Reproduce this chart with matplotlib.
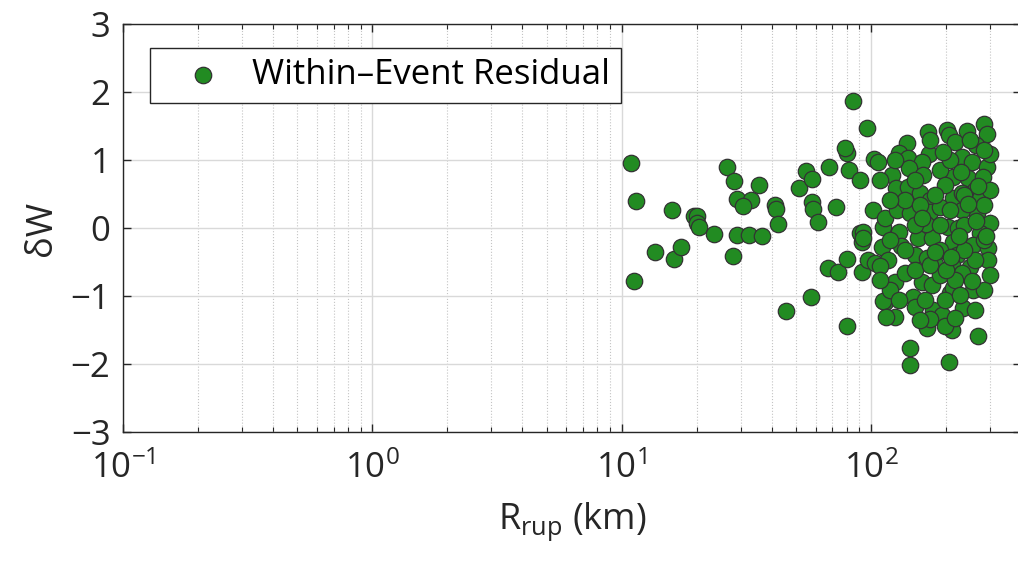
import numpy as np
import matplotlib
matplotlib.use("Agg")
import matplotlib.pyplot as plt
from matplotlib.ticker import LogLocator, FixedLocator, NullFormatter

# rupture distance (km) and within-event residual
r_rup = [
    10.9, 11.4, 11.2, 13.6, 16.2, 17.3, 15.9, 19.5, 20.0, 20.0, 20.4, 23.4,
    26.4, 28.2, 35.5, 29.0, 33.0, 30.6, 27.9, 29.0, 32.4, 36.5, 41.2, 41.6,
    42.3, 45.6, 51.4, 54.9, 58.0, 67.9, 58.0, 58.6, 61.3, 72.6, 57.5, 67.2,
    73.8, 80.0, 80.0, 78.6, 80.0, 84.4, 96.4, 81.5, 90.5, 103, 107, 102,
    90.5, 92.2, 92.2, 97, 112, 104,
    169, 140, 130, 141, 171, 160, 142, 162, 121, 126, 141, 157, 173, 114,
    127, 143, 162, 173, 130, 154, 176, 93, 93, 111, 117, 150, 168, 125,
    137, 160, 176, 114, 147, 150, 125, 177, 168, 143, 143,
    284, 243, 202, 206, 292, 264, 217, 232, 255, 292, 213, 245, 282, 261,
    213, 274, 232, 189, 266, 300, 232, 204, 224, 274, 213, 257, 295, 221,
    295, 250, 300, 211, 232, 207, 257, 234, 193, 211, 269, 206,
    300, 166, 132, 181, 109, 213, 173, 198, 112, 115,
    189, 198, 181, 207, 300, 285, 237, 189, 150, 119, 137, 189, 261, 189,
    218, 150, 119, 165, 198, 228, 285, 261, 218, 157, 130, 137, 119, 109,
    125, 150, 173, 250, 285, 237, 207, 157, 285, 237, 173, 109,
    270, 245, 225, 200, 180, 160, 255, 230, 210, 195, 290, 265,
]
resid = [
    0.96, 0.39, -0.78, -0.35, -0.46, -0.28, 0.26, 0.18, 0.17, 0.07, 0.01, -0.09,
    0.90, 0.69, 0.63, 0.43, 0.41, 0.32, -0.41, -0.10, -0.10, -0.12, 0.34, 0.28,
    0.06, -1.22, 0.59, 0.84, 0.72, 0.90, 0.38, 0.28, 0.09, 0.31, -1.01, -0.59,
    -0.65, -0.46, 1.10, 1.18, -1.44, 1.87, 1.47, 0.85, 0.71, 1.01, 0.97, 0.26,
    -0.07, -0.21, -0.65, -0.47, 0.01, -0.51,
    1.41, 1.25, 1.10, 1.03, 1.09, 0.97, 0.88, 0.78, 0.78, 0.59, 0.60, 0.51,
    0.41, 0.15, 0.26, 0.22, 0.12, 0.24, -0.06, -0.15, -0.15, -0.06, -0.15,
    -0.28, -0.47, -0.40, -0.44, -0.79, -0.66, -0.79, -0.84, -1.09, -1.01,
    -1.16, -1.31, -1.21, -1.47, -1.77, -2.02,
    1.53, 1.43, 1.44, 1.37, 1.38, 1.22, 1.26, 1.04, 0.97, 0.90, 0.75, 0.74,
    0.75, 0.56, 0.44, 0.44, 0.51, 0.31, 0.22, 0.07, 0.26, 0.01, 0.00, -0.07,
    -0.21, -0.25, -0.29, -0.40, -0.47, -0.57, -0.69, -0.54, -0.66, -0.96,
    -0.91, -1.18, -1.28, -1.50, -1.59, -1.97,
    1.09, 0.06, -0.26, -0.53, -0.56, -0.88, -1.34, -1.44, -1.07, -1.31,
    0.85, 0.63, 0.49, 1.00, 0.56, 0.34, 0.04, 0.04, 0.04, -0.18, -0.32, -0.32,
    -0.47, -0.69, -0.76, -0.62, -0.91, -1.06, -1.06, -0.99, -0.91, -1.21,
    -1.32, -1.35, -1.06, 0.41, 0.41, 0.71, 1.00, 0.71, 1.29, 1.29, 1.15,
    0.49, 0.26, 0.34, -0.18, -0.32, -0.54, -0.76,
    0.62, 0.35, -0.12, -0.62, -0.35, 0.15, -0.78, 0.82, -0.42, 1.12, -0.12,
    0.10,
]

x_ticks = [0.1, 1, 10, 100]
y_ticks = [-3, -2, -1, 0, 1, 2, 3]

plt.rcParams['font.family'] = ['Open Sans', 'DejaVu Sans']
plt.rcParams['mathtext.fontset'] = 'custom'
plt.rcParams['mathtext.rm'] = 'Open Sans'
plt.rcParams['mathtext.it'] = 'Open Sans:italic'

fig = plt.figure(figsize=(10.18, 5.63), dpi=100)
ax = fig.add_axes([123 / 1018, 131 / 563, 898 / 1018, 408 / 563])

ax.scatter(r_rup, resid, s=140, c='#228b22', edgecolors='#333333',
           linewidths=0.9, zorder=3, label='Within\u2013Event Residual')

ax.set_xscale('log')
ax.set_xlim(0.1, 400)
ax.set_ylim(-3, 3)
ax.xaxis.set_major_locator(FixedLocator(x_ticks))
ax.xaxis.set_minor_locator(LogLocator(base=10, subs=np.arange(2, 10)))
ax.xaxis.set_minor_formatter(NullFormatter())
ax.set_xticklabels([r'$\mathregular{10^{-1}}$', r'$\mathregular{10^{0}}$',
                    r'$\mathregular{10^{1}}$', r'$\mathregular{10^{2}}$'])
ax.set_yticks(y_ticks)
ax.set_yticklabels([str(v).replace('-', '\u2212') for v in y_ticks])

ax.grid(True, which='major', color='#d9d9d9', linewidth=1.0, zorder=0)
ax.grid(True, which='minor', axis='x', color='#c4c4c4', linestyle=':',
        linewidth=0.8, zorder=0)
ax.set_axisbelow(True)

ax.tick_params(which='both', direction='in', top=True, right=True,
               colors='#262626', labelsize=25)
ax.tick_params(axis='x', pad=14)
ax.tick_params(axis='y', pad=9)
ax.tick_params(which='major', length=6, width=1.0)
ax.tick_params(which='minor', length=3.5, width=0.8)
for s in ax.spines.values():
    s.set_color('#262626')
    s.set_linewidth(1.0)

ax.set_xlabel(r'R$_{\mathregular{rup}}$ (km)', fontsize=26, color='#262626',
              labelpad=10)
ax.set_ylabel('\u03b4W', fontsize=26, color='#262626', labelpad=8)

leg = ax.legend(loc='upper left', bbox_to_anchor=(27 / 898, 1 - 24 / 408),
                fontsize=25, frameon=True, fancybox=False, borderpad=0.3,
                handletextpad=0.2, borderaxespad=0, handlelength=2.45,
                markerscale=1.0)
leg.get_frame().set_edgecolor('#262626')
leg.get_frame().set_linewidth(1.0)
leg.get_frame().set_alpha(1)

fig.savefig('out.png', dpi=100)
